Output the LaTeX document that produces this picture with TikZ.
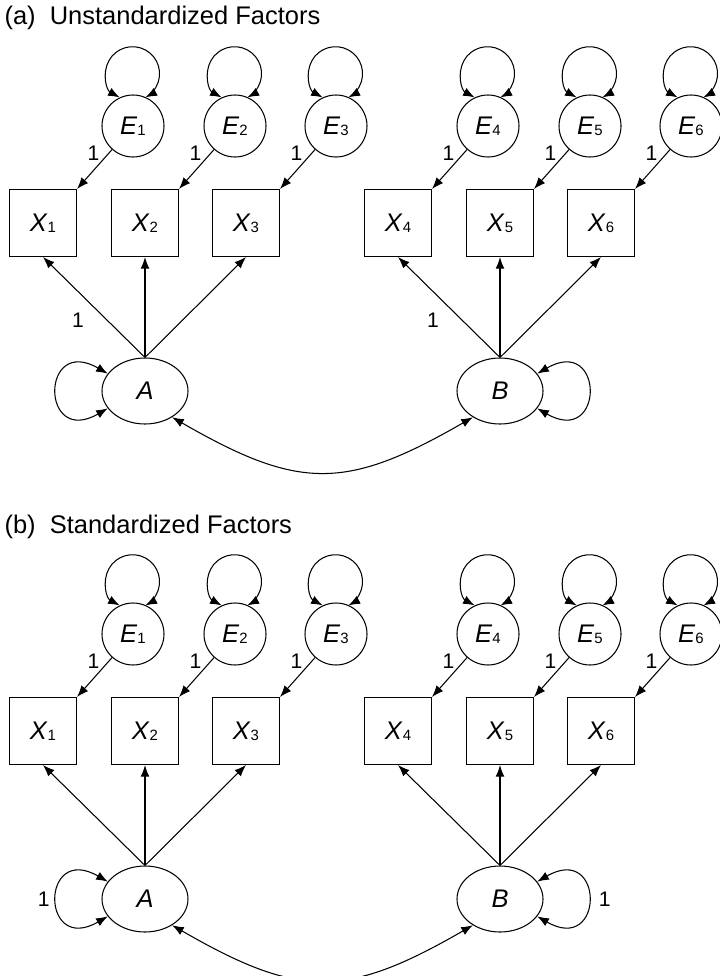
\documentclass[tikz,border=0pt]{standalone}
\usepackage{fontspec}
\setmainfont{Liberation Sans}
\usetikzlibrary{arrows.meta,shapes.geometric}

% variable name with a small index set on the baseline
\newcommand{\semlab}[2]{\textit{#1}\raisebox{-0.6pt}{\fontsize{8.5}{9}\selectfont #2}}

\begin{document}
\begin{tikzpicture}[>={Latex[length=6.6pt,width=5pt]}, line width=0.6pt,
  every node/.style={font=\fontsize{14.5}{16}\selectfont},
  obs/.style={draw, rectangle, minimum size=1.34cm, inner sep=0pt},
  err/.style={draw, circle, minimum size=1.24cm, inner sep=0pt},
  lat/.style={draw, ellipse, minimum width=1.72cm, minimum height=1.32cm, inner sep=0pt},
  fixlab/.style={font=\fontsize{12}{14}\selectfont, inner sep=1pt}]
\useasboundingbox (0,0) rectangle (14.38,-19.52);

% one panel per identification choice: loading fixed (a) or factor variance fixed (b)
\foreach \p/\dy/\ttl/\ld/\lv in {a/0/Unstandardized/1/{}, b/-10.16/Standardized/{}/1} {
\begin{scope}[yshift=\dy cm, name prefix=\p-]
\node[anchor=base west, inner sep=0pt] (title) at (0.08,-0.50) {(\p)~~\ttl\ Factors};
% indicators and their error terms
\foreach \i/\x in {1/0.86,2/2.90,3/4.92,4/7.96,5/10.00,6/12.02} {
  \node[obs] (X\i) at (\x,-4.46) {\semlab{X}{\i}};
  \node[err] (E\i) at (\x+1.8,-2.52) {\semlab{E}{\i}};
  \draw[->] (E\i) -- node[fixlab, pos=0.1, left=4pt] {1} (X\i.north east);
  \draw[<->] (E\i.115) arc[start angle=241.5, end angle=-61.5, radius=0.54cm];
}
% factors
\node[lat] (A) at (2.90,-7.82) {\textit{A}};
\node[lat] (B) at (10.00,-7.82) {\textit{B}};
\draw[->] (A.north) -- node[fixlab, pos=0.37, left=12pt] {\ld} (X1.south);
\draw[->] (A.north) -- (X2.south);
\draw[->] (A.north) -- (X3.south);
\draw[->] (B.north) -- node[fixlab, pos=0.37, left=12pt] {\ld} (X4.south);
\draw[->] (B.north) -- (X5.south);
\draw[->] (B.north) -- (X6.south);
\draw[<->] (A.155) .. controls +(150:1.56) and +(210:1.56) .. node[fixlab, left=3pt] {\lv} (A.205);
\draw[<->] (B.25) .. controls +(30:1.56) and +(-30:1.56) .. node[fixlab, right=5pt] {\lv} (B.-25);
\draw[<->] (A.-44) to[out=-30, in=-150, looseness=1.25] (B.-136);
\end{scope}
}
\end{tikzpicture}
\end{document}
